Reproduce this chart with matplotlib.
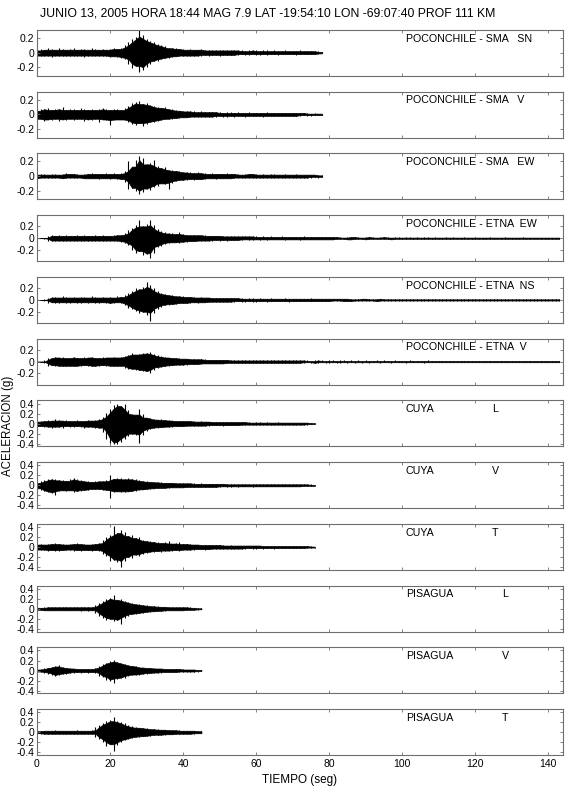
import numpy as np
import matplotlib.pyplot as plt

plt.rcParams['font.family'] = ['Liberation Sans', 'DejaVu Sans']
plt.rcParams['axes.unicode_minus'] = False

titulo = 'JUNIO 13, 2005 HORA 18:44 MAG 7.9 LAT -19:54:10 LON -69:07:40 PROF 111 KM'

# nombre de estacion y componente de cada traza
estaciones = ['POCONCHILE - SMA   SN', 'POCONCHILE - SMA   V', 'POCONCHILE - SMA   EW',
              'POCONCHILE - ETNA  EW', 'POCONCHILE - ETNA  NS', 'POCONCHILE - ETNA  V',
              'CUYA', 'CUYA', 'CUYA', 'PISAGUA', 'PISAGUA', 'PISAGUA']
componentes = ['', '', '', '', '', '', 'L', 'V', 'T', 'L', 'V', 'T']

sma_sn_up = [3,5,4,6,5,4,6,5,4,5, 6,4,5,5,4,6,5,4,5,4, 5,6,5,7,10,14,18,22,31,24,
             19,16,14,12,10,9,7,6,6,5, 5,4,5,4,4,5,4,3,4,3, 3,4,3,3,4,3,3,2,3,3,
             3,2,3,3,2,3,2,2,3,2, 2,2,3,2,2,2,2,2,1]
sma_sn_dn = [4,5,5,4,6,5,4,5,5,4, 5,5,4,6,5,4,5,5,4,5, 6,5,6,7,9,15,21,18,26,24,
             20,15,12,11,9,8,7,6,5,5, 4,5,4,4,5,4,3,4,3,3, 4,3,3,3,3,3,2,3,3,2,
             3,3,2,3,2,2,3,2,2,2, 2,3,2,2,2,2,2,2,1]

sma_v_up = [5,8,7,9,6,8,7,10,6,8, 7,6,9,7,6,8,6,7,9,7, 6,8,7,6,9,12,15,17,18,14,
            16,13,12,10,9,10,8,7,6,5, 5,4,4,4,3,4,3,3,3,3, 3,2,3,3,2,3,2,2,3,2,
            2,2,2,3,2,2,2,2,2,2, 2,2,2,2,2,1,2,1,1]
sma_v_dn = [6,7,9,7,8,6,9,7,8,6, 8,7,6,9,7,8,6,10,7,8, 14,8,7,7,8,11,13,14,12,16,
            13,11,10,9,8,7,6,6,5,5, 4,4,4,3,4,3,3,3,3,3, 2,3,3,2,3,2,2,3,2,2,
            2,2,3,2,2,2,2,2,2,2, 2,2,2,1,2,2,1,1,1]

sma_ew_up = [2,3,3,2,3,3,2,3,4,3, 3,3,2,3,3,4,3,3,3,4, 3,4,3,4,7,20,13,22,28,25,
             16,18,22,14,11,12,9,8,7,7, 6,5,5,4,5,4,4,3,4,3, 3,3,4,3,3,3,2,3,3,3,
             3,2,3,2,3,3,2,2,3,2, 2,3,2,2,2,2,2,2,1]
sma_ew_dn = [3,3,2,3,3,2,3,3,3,2, 3,2,3,3,3,3,3,4,3,3, 4,3,4,4,8,18,16,20,25,22,
             17,19,15,13,10,11,17,9,7,6, 5,5,4,5,4,4,4,3,3,4, 3,3,3,3,3,2,3,3,2,3,
             2,3,2,2,3,2,2,3,2,2, 2,2,2,2,2,2,1,2,1]

etna_ew_up = [0,0,1,4,5,4,5,4,5,4, 4,5,4,5,4,4,5,4,5,4, 4,5,5,6,8,14,18,22,30,20,
              24,30,22,16,12,10,8,9,7,10, 7,6,5,5,6,5,5,4,4,4, 4,4,3,4,3,3,3,3,3,3,
              3,2,3,2,3,2,2,3,2,2, 2,2,2,3,2,2,2,2,2,2, 2,2,2,2,1,2,2,2,2,1,
              2,2,2,1,2,2,2,1,2,2, 1,2,2,1,2,1,2,2,1,2, 1,1,2,1,2,1,1,2,1,1,
              2,1,1,1,2,1,1,1,2,1, 1,1,1,2,1,1,1,1,1,1, 1,1,1,1]
etna_ew_dn = [0,0,1,4,4,5,4,5,4,5, 5,4,5,4,5,4,4,5,4,5, 5,4,5,6,9,12,20,25,22,28,
              26,34,25,15,13,10,8,7,7,9, 6,6,5,5,5,4,5,4,4,3, 4,3,4,3,3,3,3,2,3,3,
              2,3,2,3,2,2,2,2,3,2, 2,2,3,2,2,2,2,2,2,2, 2,2,2,1,2,2,2,2,1,2,
              2,2,1,2,2,1,2,2,2,1, 2,1,2,2,1,2,1,2,1,2, 1,2,1,1,2,1,1,2,1,1,
              1,2,1,1,1,2,1,1,1,2, 1,1,1,1,2,1,1,1,1,1, 1,1,1,1]

etna_ns_up = [0,0,1,4,5,5,4,6,5,4, 5,4,5,5,4,6,5,4,5,4, 5,4,6,5,8,12,15,20,18,22,
              30,25,20,15,12,10,9,8,7,6, 6,5,5,5,4,5,4,4,4,3, 4,3,3,3,3,3,3,2,3,3,
              2,3,2,2,3,2,2,2,3,2, 2,2,2,2,2,3,2,2,2,2, 2,2,2,2,2,2,2,1,2,2,
              2,2,1,2,2,2,1,2,2,1, 2,2,1,2,1,2,2,1,2,1, 2,1,2,1,1,2,1,2,1,1,
              2,1,1,2,1,1,1,2,1,1, 1,2,1,1,1,1,2,1,1,1, 1,1,1,1]
etna_ns_dn = [0,0,1,5,4,5,5,4,5,5, 4,5,6,4,5,4,5,5,4,5, 5,5,4,6,9,13,16,18,22,20,
              25,36,22,15,12,9,8,7,7,6, 5,5,5,4,5,4,4,4,3,4, 3,3,3,3,3,2,3,3,2,3,
              3,2,2,3,2,2,2,2,2,3, 2,2,2,2,2,2,2,2,2,2, 2,2,1,2,2,2,2,2,1,2,
              2,1,2,2,2,1,2,2,1,2, 1,2,2,1,2,1,2,1,2,1, 1,2,1,2,1,1,2,1,1,2,
              1,1,2,1,1,1,2,1,1,1, 2,1,1,1,1,1,1,2,1,1, 1,1,1,1]

etna_v_up = [0,0,3,6,7,8,7,8,6,7, 8,7,6,8,7,8,7,6,8,7, 7,8,7,8,10,12,14,12,13,15,
             14,17,13,11,9,8,7,7,6,6, 5,5,5,4,4,4,4,3,3,3, 3,3,3,3,2,3,2,2,2,2,
             2,2,2,2,2,2,2,2,2,2, 2,2,2,2,2,1,2,2,2,1, 2,2,1,2,2,1,2,1,2,1,
             2,1,1,2,1,2,1,1,2,1, 1,1,2,1,1,1,1,2,1,1, 1,1,1,1,1,1,1,1,1,1,
             1,1,1,1,1,1,1,1,1,1, 1,1,1,1,1,1,1,1,1,1, 1,1,1,1]
etna_v_dn = [0,0,3,7,6,8,8,7,7,8, 7,8,7,6,8,7,8,7,6,8, 8,7,8,7,11,13,12,15,14,16,
             16,20,14,10,9,8,7,6,6,5, 5,5,4,4,4,4,3,3,3,3, 3,3,3,2,3,2,2,2,2,2,
             2,2,2,2,2,2,2,2,2,2, 2,2,2,2,1,2,2,2,1,2, 2,1,2,2,1,2,1,2,1,2,
             1,2,1,1,2,1,1,2,1,1, 1,2,1,1,1,1,2,1,1,1, 1,1,1,1,1,1,1,1,1,1,
             1,1,1,1,1,1,1,1,1,1, 1,1,1,1,1,1,1,1,1,1, 1,1,1,1]

cuya_l_up = [4,6,5,7,6,10,8,6,7,5, 6,7,5,6,8,6,7,9,14,22, 30,38,40,35,40,28,20,18,30,20,
             12,12,10,8,9,7,8,6,6,5, 6,5,5,5,4,5,4,4,4,3, 4,3,3,4,3,3,3,3,3,2,
             3,3,2,3,2,2,3,2,2,2, 2,2,2,2,2,2,1]
cuya_l_dn = [5,5,7,6,8,7,6,8,5,6, 7,5,6,8,6,7,8,8,16,30, 38,40,40,36,30,25,20,22,38,22,
             14,11,9,8,7,7,6,6,5,5, 5,5,4,5,4,4,4,4,3,3, 3,4,3,3,3,3,3,2,3,3,
             2,3,3,2,2,3,2,2,2,2, 2,2,2,2,2,1,1]

cuya_v_up = [5,8,10,12,13,12,10,11,9,12, 15,12,10,9,8,7,8,9,8,10, 20,13,14,15,12,14,13,12,10,9,
             8,7,7,6,6,5,5,5,5,4, 4,4,4,4,3,4,3,3,3,3, 3,3,3,2,3,2,3,2,2,2,
             2,2,3,2,2,2,2,2,2,2, 2,2,2,2,2,2,1]
cuya_v_dn = [6,10,12,14,15,20,12,10,11,10, 13,11,12,9,9,8,7,8,9,10, 25,14,12,13,14,12,12,11,9,8,
             8,7,6,6,5,5,5,4,4,4, 4,4,3,4,3,3,3,3,3,3, 3,2,3,3,2,3,2,2,2,3,
             2,2,2,2,2,2,2,2,2,2, 2,2,2,2,1,2,1]

cuya_t_up = [5,6,5,6,7,8,6,7,5,6, 6,8,6,7,5,6,7,8,15,20, 24,42,28,35,30,22,25,18,20,15,
             12,12,10,11,8,10,12,7,8,10, 6,7,6,5,5,5,4,5,4,4, 4,4,3,4,3,3,3,3,3,3,
             3,3,3,2,3,3,2,2,3,2, 2,2,2,2,2,2,1]
cuya_t_dn = [5,5,6,7,6,7,8,6,6,5, 7,6,7,6,6,7,6,8,14,18, 28,25,30,40,28,20,22,15,18,14,
             11,10,9,8,9,7,8,7,6,7, 6,5,5,5,4,4,5,4,4,3, 4,3,3,3,3,3,3,3,2,3,
             3,2,3,2,2,3,2,2,2,2, 2,2,2,2,2,1,1]

pisagua_l_up = [2,2,3,3,3,3,3,3,3,3, 3,3,3,4,3,4,8,12,16,20, 22,27,18,20,16,14,12,10,9,8,
                7,6,5,5,4,4,4,3,3,3, 3,3,3,2,2,1]
pisagua_l_dn = [2,3,3,3,3,3,3,3,3,3, 3,3,4,3,4,3,9,14,18,22, 20,24,22,30,18,14,11,10,9,8,
                7,6,5,5,4,4,3,3,3,3, 3,3,2,2,2,1]

pisagua_v_up = [2,3,5,6,8,10,12,8,6,5, 4,4,3,4,3,4,6,10,14,16, 20,22,18,16,14,12,10,9,8,6,
                6,5,5,4,4,4,3,3,3,3, 3,2,2,2,2,1]
pisagua_v_dn = [2,3,4,6,9,10,9,7,6,5, 4,3,4,3,4,3,5,11,13,18, 20,25,16,15,14,11,9,8,8,7,
                6,5,5,4,4,3,3,3,3,3, 2,2,2,2,2,1]

pisagua_t_up = [2,3,3,3,3,4,3,3,3,3, 3,4,3,3,3,4,10,15,18,22, 24,30,22,20,18,14,12,10,9,9,
                8,7,6,6,5,5,5,4,4,4, 3,3,3,3,3,2]
pisagua_t_dn = [2,3,3,3,4,3,3,3,3,3, 3,3,4,3,3,3,10,14,20,28, 24,38,25,20,16,14,12,10,9,8,
                8,7,6,5,5,5,4,4,4,3, 3,3,3,3,2,2]

picos = [(sma_sn_up, sma_sn_dn), (sma_v_up, sma_v_dn), (sma_ew_up, sma_ew_dn),
         (etna_ew_up, etna_ew_dn), (etna_ns_up, etna_ns_dn), (etna_v_up, etna_v_dn),
         (cuya_l_up, cuya_l_dn), (cuya_v_up, cuya_v_dn), (cuya_t_up, cuya_t_dn),
         (pisagua_l_up, pisagua_l_dn), (pisagua_v_up, pisagua_v_dn), (pisagua_t_up, pisagua_t_dn)]


def nucleo(a):
    # parte densa de la traza: el menor pico entre cada segundo y sus vecinos
    b = np.pad(a, 1, mode='edge')
    return np.minimum(np.minimum(b[:-2], b[1:-1]), b[2:])


fig, axs = plt.subplots(12, 1, figsize=(5.7, 7.92), dpi=100, sharex=True)
fig.subplots_adjust(left=37/570, right=563/570, top=1-30/792, bottom=1-755/792, hspace=0.341)

gris = '#6e6e6e'
for i, ax in enumerate(axs):
    up, dn = picos[i]
    t = np.arange(len(up))
    alto = np.array(up) * 0.01
    bajo = -np.array(dn) * 0.01
    ax.fill_between(t, -nucleo(-bajo), nucleo(alto), color='k', lw=0.5)
    ax.vlines(t, bajo, alto, color='k', lw=0.8)

    ax.set_xlim(0, 144)
    if i < 3:
        ax.set_ylim(-0.32, 0.31)
    elif i < 6:
        ax.set_ylim(-0.39, 0.39)
    else:
        ax.set_ylim(-0.455, 0.465)
    if i < 6:
        ax.set_yticks([-0.2, 0, 0.2])
        ax.set_yticklabels(['-0.2', '0', '0.2'])
    else:
        ax.set_yticks([-0.4, -0.2, 0, 0.2, 0.4])
        ax.set_yticklabels(['-0.4', '-0.2', '0', '0.2', '0.4'])
    ax.set_xticks(np.arange(0, 141, 20))

    ax.tick_params(direction='in', length=2.5, width=0.6, color=gris, labelsize=7.5,
                   top=True, right=True, pad=2)
    for s in ax.spines.values():
        s.set_color(gris)
        s.set_linewidth(0.8)

    tr = ax.get_xaxis_transform()
    ax.text(101, 0.81, estaciones[i], transform=tr, fontsize=7.7, va='center', ha='left')
    if componentes[i]:
        xc = 124.5 if i < 9 else 127.3
        ax.text(xc, 0.81, componentes[i], transform=tr, fontsize=7.7, va='center', ha='left')

axs[-1].set_xticklabels([str(v) for v in range(0, 141, 20)])
axs[-1].tick_params(axis='x', labelsize=7.5, pad=3)

fig.text(40/570, 1 - 13/792, titulo, fontsize=8.85, ha='left', va='center')
fig.text(8/570, 1 - 426/792, 'ACELERACION (g)', fontsize=8.3, rotation=90, ha='center', va='center')
fig.text(300/570, 1 - 780/792, 'TIEMPO (seg)', fontsize=8.5, ha='center', va='center')

plt.savefig('out.png', dpi=100)
